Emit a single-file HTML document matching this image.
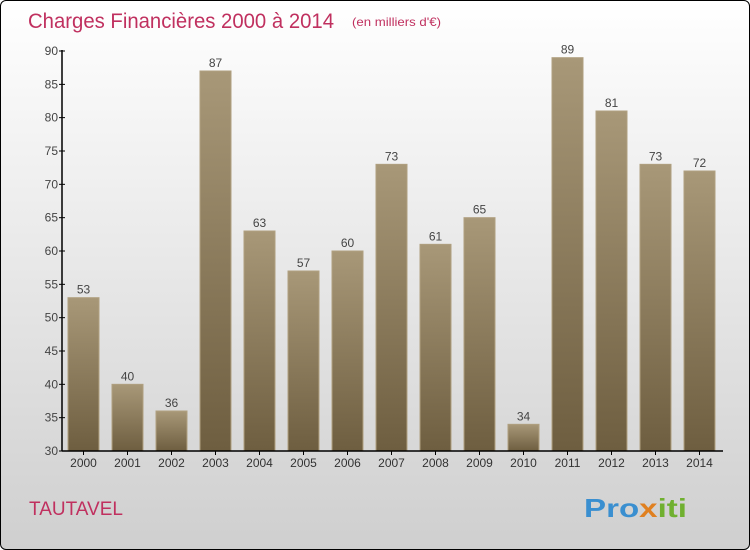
<!DOCTYPE html>
<html><head><meta charset="utf-8"><style>
html,body{margin:0;padding:0;}
body{width:750px;height:550px;overflow:hidden;font-family:"Liberation Sans",sans-serif;}
#frame{position:absolute;left:0;top:0;width:748px;height:548px;border:1px solid #000;border-radius:6px;background:linear-gradient(#ffffff,#cfcfcf);overflow:hidden;}
</style></head><body>
<div id="frame">
<svg id="chart" width="750" height="550">
<defs><linearGradient id="bg" x1="0" y1="0" x2="0" y2="1"><stop offset="0" stop-color="#a89878"/><stop offset="1" stop-color="#6e5e40"/></linearGradient></defs>
<text x="27" y="27" font-size="21" fill="#c0305f" textLength="306" lengthAdjust="spacingAndGlyphs">Charges Financières 2000 à 2014</text>
<text x="351" y="25" font-size="12" fill="#c0305f" textLength="89" lengthAdjust="spacingAndGlyphs">(en milliers d'€)</text>
<text x="28" y="514" font-size="19" fill="#c0305f">TAUTAVEL</text>
<g font-size="26" font-weight="bold">
<text x="583" y="516" textLength="103" lengthAdjust="spacingAndGlyphs"><tspan fill="#3a8fd0">Pro</tspan><tspan fill="#e08020">x</tspan><tspan fill="#70b030">iti</tspan></text>
</g>
<g id="bars"></g><g id="axes"></g>
</svg></div>
<script>
const categories=["2000","2001","2002","2003","2004","2005","2006","2007","2008","2009","2010","2011","2012","2013","2014"];
const values=[53,40,36,87,63,57,60,73,61,65,34,89,81,73,72];
const yTicks=[30,35,40,45,50,55,60,65,70,75,80,85,90];
const NS="http://www.w3.org/2000/svg";
const y0=450,y1=50,vmin=30,vmax=90,axisX=61;
function yS(v){return y0-(v-vmin)/(vmax-vmin)*(y0-y1);}
function xC(i){return 82.5+i*44;}
function mk(t,a,p){const e=document.createElementNS(NS,t);for(const k in a)e.setAttribute(k,a[k]);p.appendChild(e);return e;}
const bars=document.getElementById('bars'),axes=document.getElementById('axes');
values.forEach((v,i)=>{
 const r=mk('rect',{x:xC(i)-15.5,y:yS(v),width:31,height:y0-yS(v),fill:'url(#bg)',stroke:'#b0a080','stroke-width':1},bars);
 
 
 const t=mk('text',{x:xC(i),y:yS(v)-4,'text-anchor':'middle','font-size':12,fill:'#444'},bars);t.textContent=v;
 
 
 const c=mk('text',{x:xC(i),y:y0+16,'text-anchor':'middle','font-size':12,fill:'#333'},axes);c.textContent=categories[i];
 
 
 mk('line',{x1:xC(i),x2:xC(i),y1:y0,y2:y0+4,stroke:'#000'},axes);
});
yTicks.forEach(v=>{
 mk('line',{x1:axisX-3,x2:axisX+3,y1:yS(v),y2:yS(v),stroke:'#000'},axes);
 const t=mk('text',{x:axisX-4,y:yS(v)+4,'text-anchor':'end','font-size':12,fill:'#444'},axes);t.textContent=v;
 
 
});
const ya=mk('line',{x1:axisX,x2:axisX,y1:y1-1,y2:y0,stroke:'#000','stroke-width':1.5},axes);


const xa=mk('line',{x1:axisX,x2:722,y1:y0,y2:y0,stroke:'#000','stroke-width':1.5},axes);


</script>
</body></html>
